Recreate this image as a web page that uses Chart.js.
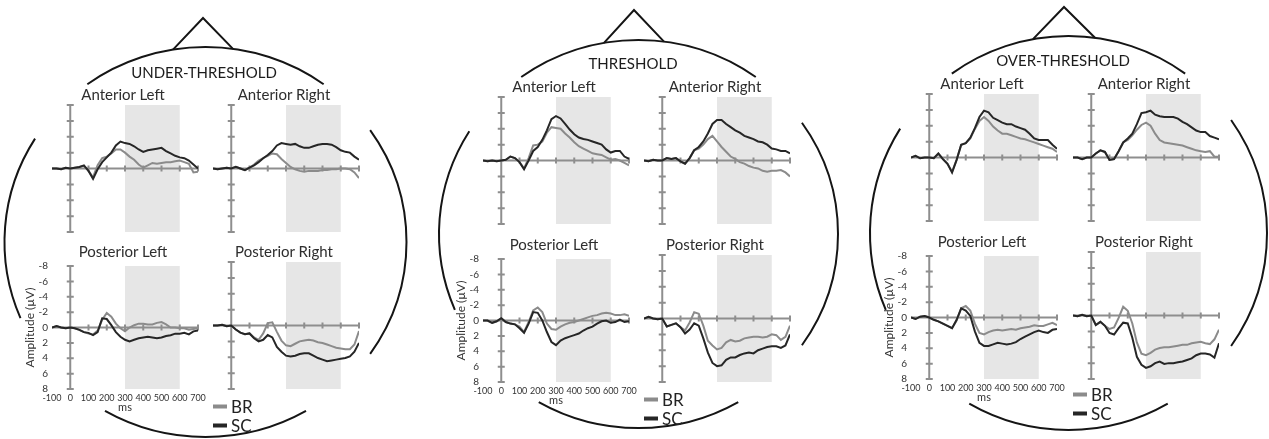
<!DOCTYPE html>
<html lang="en">
<head>
  <meta charset="UTF-8" />
  <title>ERP by threshold</title>
  <script src="https://cdn.jsdelivr.net/npm/chart.js"></script>
  <style>
    body { margin: 0; background: #fff; }
    #lamina { position: relative; width: 1269px; height: 439px; overflow: hidden; font-family: Lato, "Open Sans", sans-serif; }
    #cabezas { position: absolute; left: 0; top: 0; }
    .caja { position: absolute; }
    .titulo { position: absolute; transform: translate(-50%, -50%); font-size: 15px; color: #1c1c1c; white-space: nowrap; }
    .sub { position: absolute; transform: translate(-50%, -50%); font-size: 15px; color: #2e2e2e; white-space: nowrap; }
    .ley { position: absolute; transform: translateY(-50%); font-size: 17px; color: #222; white-space: nowrap; display: flex; align-items: center; }
    .raya { display: inline-block; width: 14px; height: 4px; margin-right: 4px; }
  </style>
</head>
<body>
<div id="lamina">
  <canvas id="cabezas" width="1269" height="439"></canvas>
</div>

<script>
  // time points (ms)
  const ms = [-100, -75, -50, -25, 0, 25, 50, 75, 100, 125, 150, 175, 200, 225, 250, 275, 300,
              325, 350, 375, 400, 425, 450, 475, 500, 525, 550, 575, 600, 625, 650, 675, 700];

  // UNDER-THRESHOLD
  const underAL_BR = [0, 0, 0.1, -0.1, 0, -0.1, -0.2, -0.3, 0.3, 1.1, -0.4, -1.3, -1.5, -1.9, -2.4, -2.4, -2.0, -1.5, -1.1, -0.5, -0.1, -0.4, -0.7, -0.6, -0.7, -0.8, -0.8, -0.9, -1.0, -0.8, -0.6, 0.5, 0.4];
  const underAL_SC = [0, 0, 0.1, -0.1, 0, -0.1, -0.2, -0.4, 0.3, 1.3, 0.1, -0.8, -1.4, -2.0, -2.9, -3.4, -3.2, -3.1, -2.8, -2.4, -2.1, -2.3, -2.4, -2.5, -2.6, -2.2, -1.9, -1.6, -1.4, -1.3, -1.0, -0.5, 0];
  const underAR_BR = [0, 0.1, 0, -0.1, 0, -0.2, 0, 0.2, -0.1, -0.5, -1.0, -1.3, -1.6, -1.9, -1.8, -1.2, -0.7, -0.2, 0.1, 0.3, 0.4, 0.3, 0.3, 0.3, 0.2, 0.2, 0.1, 0.1, 0, 0, 0.1, 0.5, 1.2];
  const underAR_SC = [0, 0.1, 0, -0.1, 0, -0.2, 0, 0.2, -0.1, -0.4, -0.8, -1.3, -1.7, -2.2, -2.9, -3.2, -3.1, -3.0, -3.1, -2.8, -2.6, -2.6, -2.8, -3.0, -3.1, -3.1, -3.0, -2.7, -2.3, -2.1, -2.0, -1.5, -1.1];
  const underPL_BR = [0, -0.2, 0, 0.1, 0, 0.1, 0.3, 0.6, 0.8, 0.9, 0.4, -1.0, -1.9, -1.4, -0.5, 0.1, 0.5, 0.0, -0.3, -0.5, -0.5, -0.4, -0.4, -0.6, -0.7, -0.4, 0, 0, 0.1, 0.1, 0.3, 0.2, 0.1];
  const underPL_SC = [0, -0.2, 0, 0.1, 0, 0.1, 0.3, 0.6, 0.7, 1.0, 0.6, -1.2, -1.1, -0.3, 0.6, 1.2, 1.6, 1.8, 1.6, 1.4, 1.3, 1.2, 1.3, 1.4, 1.3, 1.1, 1.0, 0.8, 0.8, 0.7, 0.9, 0.5, 0.4];
  const underPR_BR = [0, 0, -0.1, 0.1, 0, 0.5, 0.9, 1.1, 1.0, 1.5, 1.8, 1.0, -0.3, -0.4, 0.8, 1.9, 2.5, 2.6, 2.3, 2.0, 1.9, 1.8, 1.9, 2.1, 2.2, 2.4, 2.6, 2.8, 2.9, 3.0, 3.0, 2.4, 0.7];
  const underPR_SC = [0, 0, -0.1, 0.1, 0, 0.5, 0.9, 1.1, 1.0, 1.6, 2.0, 1.8, 1.2, 1.5, 2.7, 3.3, 3.8, 3.9, 3.8, 3.6, 3.5, 3.5, 3.8, 4.1, 4.3, 4.5, 4.4, 4.3, 4.2, 4.1, 3.9, 3.3, 2.2];

  // THRESHOLD
  const threshAL_BR = [0, 0.1, 0, 0.1, 0, -0.1, -0.5, -0.3, 0.2, 1.0, -0.3, -1.9, -2.0, -2.4, -3.5, -4.2, -4.1, -4.0, -3.4, -2.9, -2.3, -1.8, -1.5, -1.2, -0.9, -0.8, -0.7, -0.4, -0.1, -0.2, 0, 0.3, 0.6];
  const threshAL_SC = [0, 0.1, 0, 0.1, 0, -0.1, -0.5, -0.3, 0.2, 1.1, 0, -1.2, -1.7, -2.6, -3.8, -5.2, -5.6, -5.3, -4.6, -3.9, -3.3, -2.9, -2.7, -2.6, -2.4, -2.2, -2.0, -1.4, -1.0, -1.2, -1.2, -0.5, -0.2];
  const threshAR_BR = [0, 0.1, -0.1, 0, 0, -0.3, -0.2, -0.3, 0.1, 0.4, -0.3, -1.3, -1.5, -2.0, -2.7, -3.1, -2.4, -1.7, -1.1, -0.5, -0.2, 0.2, 0.4, 0.7, 0.9, 1.0, 1.3, 1.4, 1.3, 1.3, 1.2, 1.5, 2.0];
  const threshAR_SC = [0, 0.1, -0.1, 0, 0, -0.3, -0.2, -0.3, 0.1, 0.4, -0.3, -1.3, -1.7, -2.4, -3.4, -4.6, -5.1, -5.1, -4.6, -4.2, -3.8, -3.5, -3.1, -2.9, -2.7, -2.4, -2.3, -2.0, -1.5, -1.4, -1.2, -1.2, -0.9];
  const threshPL_BR = [0, 0, 0.3, 0.1, -0.3, 0.2, 0.4, 0.5, 0.8, 1.5, 0.2, -1.3, -1.7, -1.1, 0.4, 1.1, 1.2, 0.8, 0.5, 0.3, 0.2, 0.0, -0.2, -0.4, -0.6, -0.7, -0.9, -1.0, -0.9, -0.7, -0.7, -0.8, -0.6];
  const threshPL_SC = [0, 0, 0.3, 0.1, -0.3, 0.2, 0.4, 0.5, 1.0, 1.6, 0.4, -1.1, -1.0, 0, 1.5, 2.8, 3.2, 2.6, 2.3, 2.1, 1.9, 1.7, 1.3, 1.0, 0.8, 0.4, 0.1, 0.0, 0.3, 0.2, -0.1, 0.2, 0.1];
  const threshPR_BR = [0, -0.2, 0, 0.1, 0, 1.0, 0.8, 0.6, 1.1, 1.5, 0.5, -0.8, -0.6, 0.9, 2.8, 3.4, 3.9, 3.7, 3.0, 2.7, 2.9, 2.8, 2.5, 2.4, 2.3, 2.3, 2.4, 2.3, 2.0, 2.1, 2.7, 2.3, 0.9];
  const threshPR_SC = [0, -0.2, 0, 0.1, 0, 1.0, 0.8, 0.6, 1.1, 1.9, 1.4, 0.6, 0.9, 2.5, 4.3, 5.6, 6.0, 5.9, 5.2, 4.9, 4.9, 4.6, 4.4, 4.3, 4.4, 4.0, 3.8, 3.6, 3.5, 3.5, 3.7, 3.4, 2.0];

  // OVER-THRESHOLD
  const overAL_BR = [0, -0.2, 0.1, 0, 0, 0.1, -0.5, 0.2, 0.8, 1.8, 0.3, -1.6, -1.8, -2.4, -3.6, -4.6, -5.1, -4.6, -3.9, -3.4, -3.0, -3.0, -2.8, -2.6, -2.4, -2.3, -2.1, -1.9, -1.7, -1.5, -1.3, -1.1, -0.7];
  const overAL_SC = [0, -0.2, 0.1, 0, 0, 0.1, -0.5, 0.2, 0.8, 1.9, 0.3, -1.6, -1.8, -2.5, -3.7, -5.1, -5.9, -5.7, -5.0, -4.7, -4.4, -4.2, -4.2, -3.9, -3.7, -3.5, -3.0, -2.4, -2.2, -2.2, -2.2, -1.6, -1.1];
  const overAR_BR = [0, 0, 0.2, 0, 0, -0.5, -0.9, -0.7, 0.3, 0.2, -0.8, -1.9, -2.2, -2.8, -3.5, -4.1, -4.4, -4.0, -3.0, -2.2, -1.9, -1.8, -1.7, -1.6, -1.5, -1.3, -1.1, -0.9, -0.8, -0.7, -0.8, -0.1, -0.1];
  const overAR_SC = [0, 0, 0.2, 0, 0, -0.5, -0.9, -0.7, 0.3, 0.2, -0.8, -1.9, -2.4, -3.0, -4.2, -5.6, -5.7, -5.9, -5.4, -5.2, -5.1, -5.1, -5.1, -4.9, -4.5, -4.2, -3.8, -3.4, -3.2, -3.2, -2.7, -2.5, -2.3];
  const overPL_BR = [0, 0.2, -0.1, -0.2, 0, 0.3, 0.5, 0.8, 1.1, 1.4, 0.4, -1.2, -1.5, -0.9, 0.8, 2.0, 2.2, 1.9, 1.7, 1.6, 1.7, 1.6, 1.5, 1.6, 1.4, 1.3, 1.2, 1.0, 1.1, 1.1, 0.9, 0.7, 1.0];
  const overPL_SC = [0, 0.2, -0.1, -0.2, 0, 0.3, 0.5, 0.8, 1.1, 1.4, 0.3, -1.2, -0.9, -0.2, 1.8, 3.3, 3.7, 3.7, 3.5, 3.3, 3.4, 3.5, 3.4, 3.2, 2.8, 2.5, 2.2, 1.9, 1.7, 1.9, 2.0, 1.6, 1.5];
  const overPR_BR = [0, 0.1, -0.1, 0.1, 0, 1.2, 0.8, 1.3, 1.7, 1.5, 0.3, -1.1, -0.6, 1.0, 3.4, 4.8, 5.0, 4.7, 4.3, 4.1, 4.0, 4.0, 3.9, 3.8, 3.7, 3.7, 3.5, 3.4, 3.3, 3.5, 3.6, 3.0, 1.8];
  const overPR_SC = [0, 0.1, -0.1, 0.1, 0, 1.2, 0.8, 1.3, 2.2, 2.4, 1.6, 0.9, 1.0, 2.8, 5.2, 6.2, 6.6, 6.4, 6.0, 5.8, 6.1, 6.0, 6.0, 5.9, 5.8, 5.6, 5.4, 5.0, 4.8, 4.8, 4.9, 5.3, 3.5];

  const subtitles = ["Anterior Left", "Anterior Right", "Posterior Left", "Posterior Right"];
  const conditions = ["UNDER-THRESHOLD", "THRESHOLD", "OVER-THRESHOLD"];
  const groups = ["BR", "SC"];

  const BR_COLOR = "#8b8b8b";
  const SC_COLOR = "#262626";
  const AXIS_COLOR = "#8e8e8e";
  const BAND_COLOR = "#e6e6e6";

  const PLOT_W = 146, PLOT_H = 127;
  const PAD_L = 29, PAD_T = 6, PAD_R = 14, PAD_B = 25;

  // head layout (pixels)
  const heads = [
    { cx: 205.5, cy: 242, rx: 201, ry: 195, titleX: 204, titleY: 72, apex: [203, 18], nose: 30,
      cols: [52, 213], rows: [105, 262], legY: 406,
      series: [[underAL_BR, underAL_SC], [underAR_BR, underAR_SC], [underPL_BR, underPL_SC], [underPR_BR, underPR_SC]] },
    { cx: 638.5, cy: 234, rx: 199.5, ry: 194, titleX: 633, titleY: 63, apex: [634, 10], nose: 30,
      cols: [483, 644], rows: [97, 255], legY: 399,
      series: [[threshAL_BR, threshAL_SC], [threshAR_BR, threshAR_SC], [threshPL_BR, threshPL_SC], [threshPR_BR, threshPR_SC]] },
    { cx: 1068.5, cy: 233, rx: 198.5, ry: 197, titleX: 1063, titleY: 60, apex: [1064, 7], nose: 31,
      cols: [911, 1073], rows: [94, 252], legY: 394,
      series: [[overAL_BR, overAL_SC], [overAR_BR, overAR_SC], [overPL_BR, overPL_SC], [overPR_BR, overPR_SC]] }
  ];
  const ARCS = [[-126, -54], [-35, 35], [60, 120], [157, 212]];

  const lamina = document.getElementById("lamina");

  // head outlines
  const g = document.getElementById("cabezas").getContext("2d");
  g.strokeStyle = "#151515";
  g.lineWidth = 2;
  heads.forEach(h => {
    ARCS.forEach(([a0, a1]) => {
      g.beginPath();
      g.ellipse(h.cx, h.cy, h.rx, h.ry, 0, a0 * Math.PI / 180, a1 * Math.PI / 180);
      g.stroke();
    });
    const baseY = x => h.cy - h.ry * Math.sqrt(1 - ((x - h.cx) / h.rx) ** 2);
    const xl = h.apex[0] - h.nose, xr = h.apex[0] + h.nose;
    g.beginPath();
    g.moveTo(xl, baseY(xl));
    g.lineTo(h.apex[0], h.apex[1]);
    g.lineTo(xr, baseY(xr));
    g.stroke();
  });

  function addText(cls, text, x, y) {
    const d = document.createElement("div");
    d.className = cls;
    d.textContent = text;
    d.style.left = x + "px";
    d.style.top = y + "px";
    lamina.appendChild(d);
    return d;
  }

  // shaded window + axes through zero
  const marcoERP = {
    id: "marcoERP",
    beforeDatasetsDraw(chart) {
      const { ctx, chartArea: a, scales: { x, y } } = chart;
      ctx.save();
      const x0 = x.getPixelForValue(300), x1 = x.getPixelForValue(600);
      ctx.fillStyle = BAND_COLOR;
      ctx.fillRect(x0, a.top, x1 - x0, a.bottom - a.top);

      const y0 = y.getPixelForValue(0), xz = x.getPixelForValue(0);
      ctx.strokeStyle = AXIS_COLOR;
      ctx.lineWidth = 2;
      ctx.beginPath();
      ctx.moveTo(x.getPixelForValue(-100), y0);
      ctx.lineTo(x.getPixelForValue(700), y0);
      ctx.moveTo(xz, y.getPixelForValue(-8));
      ctx.lineTo(xz, y.getPixelForValue(8));
      x.ticks.forEach(t => {
        if (t.value <= 0) return;
        const px = x.getPixelForValue(t.value);
        ctx.moveTo(px, y0 - 3);
        ctx.lineTo(px, y0 + 3);
      });
      y.ticks.forEach(t => {
        if (t.value === 0) return;
        const py = y.getPixelForValue(t.value);
        ctx.moveTo(xz - 3.5, py);
        ctx.lineTo(xz + 3.5, py);
      });
      ctx.stroke();
      ctx.restore();
    }
  };

  function makePlot(left, top, br, sc, labelled) {
    const box = document.createElement("div");
    box.className = "caja";
    box.style.left = (left - PAD_L) + "px";
    box.style.top = (top - PAD_T) + "px";
    const cv = document.createElement("canvas");
    cv.width = PLOT_W + PAD_L + PAD_R;
    cv.height = PLOT_H + PAD_T + PAD_B;
    box.appendChild(cv);
    lamina.appendChild(box);

    const pts = arr => ms.map((t, i) => ({ x: t, y: arr[i] }));

    new Chart(cv, {
      type: "line",
      data: {
        datasets: [
          { label: groups[1], data: pts(sc), borderColor: SC_COLOR, borderWidth: 2, pointRadius: 0, tension: 0, order: 1 },
          { label: groups[0], data: pts(br), borderColor: BR_COLOR, borderWidth: 2, pointRadius: 0, tension: 0, order: 2 }
        ]
      },
      options: {
        responsive: false,
        animation: false,
        layout: { padding: { top: PAD_T, right: PAD_R, left: 0, bottom: 0 } },
        plugins: { legend: { display: false }, tooltip: { enabled: false } },
        scales: {
          x: {
            type: "linear", min: -100, max: 700,
            grid: { display: false, drawTicks: false },
            border: { display: false },
            ticks: { display: labelled, stepSize: 100, padding: 4, autoSkip: false, maxRotation: 0,
                     color: "#333", font: { family: "Lato", size: 9 } },
            title: { display: labelled, text: "ms", color: "#333", padding: 0, font: { family: "Lato", size: 11 } },
            afterFit: s => { s.height = PAD_B; }
          },
          y: {
            min: -8, max: 8, reverse: true,
            grid: { display: false, drawTicks: false },
            border: { display: false },
            ticks: { display: labelled, stepSize: 2, padding: 4, color: "#333", font: { family: "Lato", size: 10 } },
            title: { display: labelled, text: "Amplitude (µV)", color: "#333", padding: 0, font: { family: "Lato", size: 12 } },
            afterFit: s => { s.width = PAD_L; }
          }
        }
      },
      plugins: [marcoERP]
    });
  }

  heads.forEach((h, k) => {
    addText("titulo", conditions[k], h.titleX, h.titleY);
    for (let i = 0; i < 4; i++) {
      const left = h.cols[i % 2], top = h.rows[Math.floor(i / 2)];
      addText("sub", subtitles[i], left + PLOT_W / 2 - 2, top - 11);
      makePlot(left, top, h.series[i][0], h.series[i][1], i === 2);
    }
    // legend
    [[groups[0], BR_COLOR, h.legY], [groups[1], SC_COLOR, h.legY + 19]].forEach(([name, col, y]) => {
      const d = document.createElement("div");
      d.className = "ley";
      d.style.left = h.cols[1] + "px";
      d.style.top = y + "px";
      const r = document.createElement("span");
      r.className = "raya";
      r.style.background = col;
      d.appendChild(r);
      d.appendChild(document.createTextNode(name));
      lamina.appendChild(d);
    });
  });
</script>
</body>
</html>
